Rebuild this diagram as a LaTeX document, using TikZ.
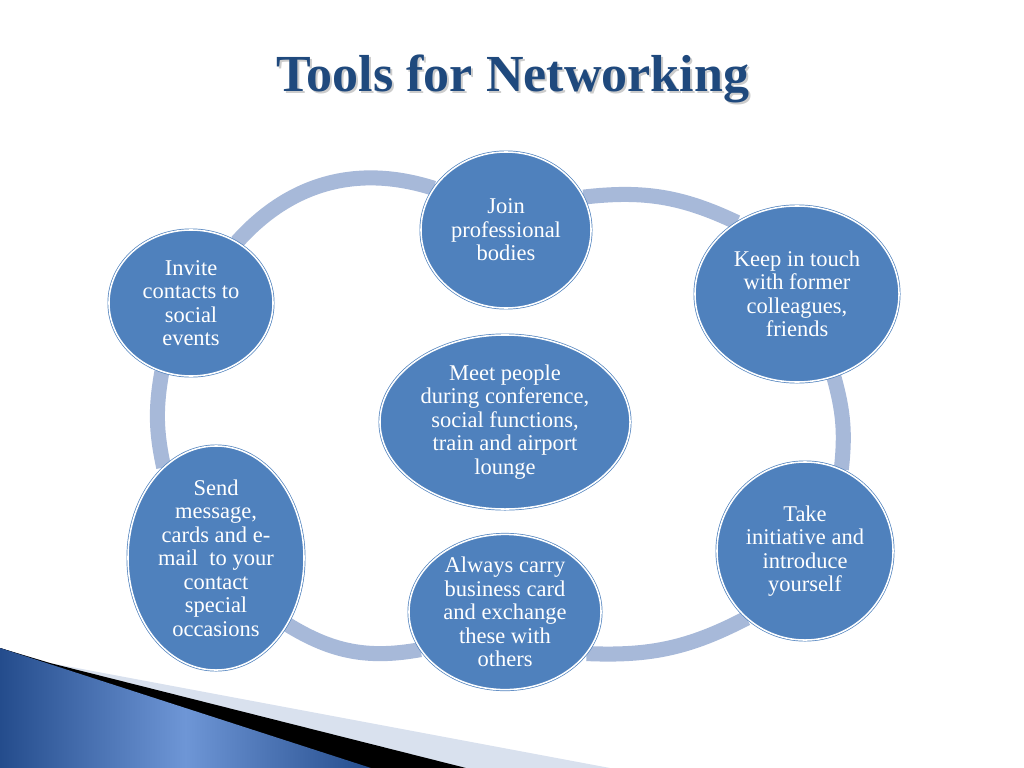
\documentclass[tikz,border=0pt]{standalone}
\usepackage{fontspec}
\setmainfont{Liberation Serif}
\usepackage{tikz}
\usetikzlibrary{shapes.geometric,backgrounds}

\definecolor{bubbleblue}{RGB}{79,129,189}
\definecolor{ringblue}{RGB}{167,185,217}
\definecolor{titleblue}{RGB}{31,73,125}
\definecolor{paleband}{RGB}{217,225,238}
\definecolor{wedgedark}{RGB}{36,76,140}
\definecolor{wedgelight}{RGB}{110,150,214}

\begin{document}
\begin{tikzpicture}[x=0.025cm, y=-0.025cm,
    bubble/.style={ellipse, draw=bubbleblue, double=white, double distance=1.1pt, line width=0.5pt, fill=bubbleblue, text=white, align=center, inner sep=0pt, font=\fontsize{16}{16.7}\selectfont},
    ring/.style={draw=ringblue, line width=10.7pt},
    heading/.style={anchor=base, font=\fontsize{37}{40}\selectfont\bfseries},
]
\useasboundingbox (0,0) rectangle (1024,768);

% Title
\node[heading, text=gray!40] (titleshadow) at (515,94) {Tools for Networking};
\node[heading, text=titleblue] (title) at (513,92) {Tools for Networking};

% Bottom left corner decoration
\fill[paleband] (0,648) -- (50,663) -- (610,768) -- (0,768) -- cycle;
\fill[black] (0,648) -- (50,663) -- (466,768) -- (0,768) -- cycle;
\fill[left color=wedgedark, right color=wedgedark, middle color=wedgelight] (0,648) -- (371,768) -- (0,768) -- cycle;

% Outer cycle
\node[bubble, minimum width=4.25cm, minimum height=3.9cm] (join) at (506,230) {Join\\professional\\bodies};
\node[bubble, minimum width=5.1cm, minimum height=4.4cm] (keep) at (797,294) {Keep in touch\\with former\\colleagues,\\friends};
\node[bubble, minimum width=4.4cm, minimum height=4.45cm] (take) at (805,551) {Take\\initiative and\\introduce\\yourself};
\node[bubble, minimum width=4.8cm, minimum height=3.75cm] (carry) at (505,612) {Always carry\\business card\\and exchange\\these with\\others};
\node[bubble, minimum width=4.4cm, minimum height=5.6cm] (send) at (216,558) {Send\\message,\\cards and e-\\mail\ \ to your\\contact\\special\\occasions};
\node[bubble, minimum width=4.1cm, minimum height=3.65cm] (invite) at (191,303) {Invite\\contacts to\\social\\events};

% Centre
\node[bubble, minimum width=6.25cm, minimum height=4.35cm] (meet) at (505,422) {Meet people\\during conference,\\social functions,\\train and airport\\lounge};

% Arcs behind the bubbles
\begin{scope}[on background layer]
\draw[ring] (invite.53) to[bend left=33] (join.150);
\draw[ring] (join.23) to[bend left=16] (keep.130);
\draw[ring] (keep.-66) to[bend left=11] (take.66);
\draw[ring] (take.229) to[bend left=15] (carry.-27);
\draw[ring] (carry.204) to[bend left=21] (send.-43);
\draw[ring] (send.120) to[bend left=11] (invite.-113);
\end{scope}

\end{tikzpicture}
\end{document}
